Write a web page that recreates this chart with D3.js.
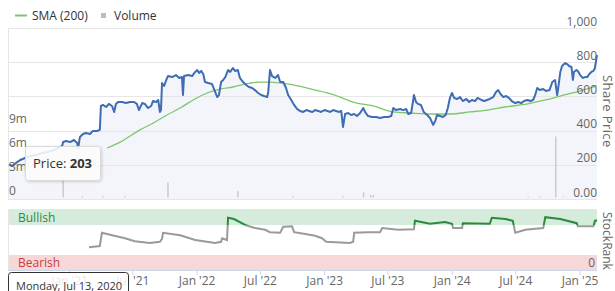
<!DOCTYPE html>
<html>
<head>
<meta charset="utf-8">
<script src="https://cdn.jsdelivr.net/npm/d3@7"></script>
<style>
  body { margin: 0; background: #fff; }
  svg { display: block; font-family: "Open Sans", sans-serif; }
</style>
</head>
<body>
<svg id="chart" width="615" height="291"></svg>
<script>
/* share price */
const priceSeries = [
  ["2020-07-13",203],["2020-07-22",193],["2020-08-02",211],["2020-08-14",228],["2020-08-28",240],["2020-09-11",251],
  ["2020-09-28",257],["2020-10-16",269],["2020-11-01",275],["2020-11-19",287],["2020-11-30",298],["2020-12-12",310],
  ["2020-12-15",333],["2020-12-23",339],["2021-01-04",333],["2021-01-15",345],["2021-01-24",327],["2021-01-27",298],
  ["2021-02-01",363],["2021-02-10",380],["2021-02-18",386],["2021-03-02",380],["2021-03-10",398],["2021-03-22",398],
  ["2021-03-30",404],["2021-04-02",544],["2021-04-08",550],["2021-04-17",538],["2021-04-25",556],["2021-05-04",544],
  ["2021-05-10",509],["2021-05-15",556],["2021-05-21",567],["2021-06-02",567],["2021-06-13",561],["2021-06-24",567],
  ["2021-07-06",567],["2021-07-14",556],["2021-07-20",520],["2021-07-29",561],["2021-08-06",556],["2021-08-15",532],
  ["2021-08-24",544],["2021-08-29",573],["2021-09-07",567],["2021-09-13",579],["2021-09-18",509],["2021-09-21",520],
  ["2021-09-24",678],["2021-09-30",661],["2021-10-06",696],["2021-10-11",719],["2021-10-23",713],["2021-11-03",725],
  ["2021-11-12",708],["2021-11-20",713],["2021-11-23",608],["2021-11-26",719],["2021-12-08",725],["2021-12-19",719],
  ["2021-12-28",743],["2022-01-03",754],["2022-01-08",737],["2022-01-14",749],["2022-01-20",731],["2022-01-25",684],
  ["2022-02-03",678],["2022-02-14",673],["2022-02-23",626],["2022-03-01",596],["2022-03-06",608],["2022-03-12",684],
  ["2022-03-18",696],["2022-03-24",713],["2022-04-01",754],["2022-04-07",743],["2022-04-15",766],["2022-04-21",749],
  ["2022-04-29",754],["2022-05-05",708],["2022-05-14",684],["2022-05-23",667],["2022-05-31",655],["2022-06-09",649],
  ["2022-06-17",637],["2022-06-26",620],["2022-07-05",608],["2022-07-13",602],["2022-07-22",596],["2022-07-25",626],
  ["2022-07-30",754],["2022-08-05",719],["2022-08-14",708],["2022-08-22",725],["2022-08-28",684],["2022-09-06",684],
  ["2022-09-14",649],["2022-09-20",608],["2022-09-29",579],["2022-10-07",550],["2022-10-16",526],["2022-10-24",515],
  ["2022-11-02",509],["2022-11-11",520],["2022-11-19",515],["2022-11-28",509],["2022-12-06",520],["2022-12-15",515],
  ["2022-12-23",509],["2023-01-02",520],["2023-01-10",515],["2023-01-18",509],["2023-01-27",520],["2023-02-04",515],
  ["2023-02-13",509],["2023-02-19",515],["2023-02-24",421],["2023-03-02",497],["2023-03-11",503],["2023-03-19",491],
  ["2023-03-28",497],["2023-04-05",485],["2023-04-14",503],["2023-04-23",532],["2023-04-28",509],["2023-05-07",485],
  ["2023-05-18",480],["2023-05-30",480],["2023-06-10",474],["2023-06-22",480],["2023-07-03",480],["2023-07-12",485],
  ["2023-07-18",532],["2023-07-26",520],["2023-08-07",526],["2023-08-15",520],["2023-08-24",526],["2023-08-30",497],
  ["2023-09-07",503],["2023-09-13",579],["2023-09-15",608],["2023-09-21",567],["2023-09-27",556],["2023-10-05",550],
  ["2023-10-13",509],["2023-10-23",491],["2023-10-31",474],["2023-11-09",433],["2023-11-15",456],["2023-11-20",491],
  ["2023-11-29",485],["2023-12-07",480],["2023-12-15",491],["2023-12-21",532],["2023-12-27",591],["2024-01-02",620],
  ["2024-01-08",591],["2024-01-17",585],["2024-01-25",596],["2024-02-02",573],["2024-02-12",585],["2024-02-20",567],
  ["2024-02-28",579],["2024-03-08",573],["2024-03-15",591],["2024-03-26",579],["2024-04-03",573],["2024-04-11",579],
  ["2024-04-19",585],["2024-04-29",596],["2024-05-07",626],["2024-05-13",637],["2024-05-20",614],["2024-05-28",596],
  ["2024-06-05",602],["2024-06-13",591],["2024-06-21",573],["2024-07-01",561],["2024-07-10",567],["2024-07-18",561],
  ["2024-07-26",573],["2024-08-05",579],["2024-08-13",573],["2024-08-21",579],["2024-08-27",608],["2024-09-02",649],
  ["2024-09-10",637],["2024-09-19",643],["2024-09-27",632],["2024-10-07",637],["2024-10-15",684],["2024-10-23",696],
  ["2024-10-29",608],["2024-11-01",649],["2024-11-07",743],["2024-11-12",778],["2024-11-21",795],["2024-11-27",789],
  ["2024-12-02",778],["2024-12-09",772],["2024-12-13",696],["2024-12-16",743],["2024-12-23",754],["2024-12-27",749],
  ["2025-01-03",725],["2025-01-10",708],["2025-01-17",713],["2025-01-23",713],["2025-01-29",731],["2025-02-04",743],
  ["2025-02-10",749],["2025-02-14",766],["2025-02-20",842]
];

/* 200 day moving average */
const smaSeries = [
  ["2021-04-20",298],["2021-05-27",333],["2021-07-23",404],["2021-09-04",450],["2021-10-08",491],["2021-11-15",532],
  ["2021-12-22",579],["2022-01-31",620],["2022-03-09",643],["2022-04-15",655],["2022-06-03",678],["2022-07-02",684],
  ["2022-07-30",684],["2022-09-17",673],["2022-11-14",649],["2023-01-10",620],["2023-02-16",596],["2023-03-25",567],
  ["2023-05-21",544],["2023-07-18",509],["2023-09-04",503],["2023-11-09",497],["2023-12-27",497],["2024-02-23",509],
  ["2024-04-11",520],["2024-06-02",538],["2024-08-05",556],["2024-09-25",579],["2024-11-07",602],["2025-01-03",632],
  ["2025-02-20",661]
];

/* volume, millions */
const volumeSeries = [
  ["2020-09-02",0.2],["2020-09-16",0.15],["2020-12-15",2.6],["2021-02-08",0.35],["2021-04-08",0.35],["2021-06-10",0.35],
  ["2021-10-11",2.1],["2021-11-26",0.2],["2022-04-29",1.0],["2022-06-13",0.2],["2022-10-04",0.35],["2023-02-24",0.35],
  ["2023-04-24",0.85],["2023-05-15",0.5],["2023-05-22",0.5],["2023-06-05",0.2],["2024-05-10",0.2],["2024-08-07",0.3],
  ["2024-09-09",0.3],["2024-09-23",0.2],["2024-10-25",7.9],["2024-11-15",0.3],["2024-11-27",0.2]
];

/* StockRank */
const rankSeries = [
  ["2021-02-27",38],["2021-03-30",40],["2021-04-05",62],["2021-05-04",58],["2021-06-10",53],["2021-07-08",48],
  ["2021-08-20",45],["2021-09-18",47],["2021-09-24",52],["2021-09-27",62],["2021-11-15",58],["2021-12-28",50],
  ["2022-02-23",45],["2022-03-12",47],["2022-03-15",53],["2022-03-29",50],["2022-04-01",87],["2022-04-18",85],
  ["2022-05-20",75],["2022-06-17",70],["2022-07-16",67],["2022-07-30",63],["2022-08-28",62],["2022-09-06",72],
  ["2022-10-01",73],["2022-10-07",63],["2022-11-08",60],["2022-12-06",57],["2022-12-26",53],["2023-01-07",47],
  ["2023-03-16",45],["2023-03-25",47],["2023-03-28",62],["2023-05-07",63],["2023-06-10",63],["2023-06-16",70],
  ["2023-08-01",67],["2023-09-15",68],["2023-09-18",82],["2023-10-31",77],["2023-12-13",80],["2024-01-02",77],
  ["2024-01-05",70],["2024-01-31",70],["2024-02-02",78],["2024-04-19",77],["2024-04-25",87],["2024-06-03",85],
  ["2024-06-24",82],["2024-07-01",62],["2024-07-30",67],["2024-09-19",70],["2024-09-25",88],["2024-11-07",85],
  ["2024-12-24",78],["2024-12-27",73],["2025-02-10",73],["2025-02-14",82],["2025-02-20",83]
];

const priceTicks = [0, 200, 400, 600, 800, 1000];
const priceTickLabels = ["0.00", "200", "400", "600", "800", "1,000"];
const volumeTicks = [0, 3, 6, 9];
const volumeTickLabels = ["0", "3m", "6m", "9m"];
const dateTicks = ["2021-01-01","2021-07-01","2022-01-01","2022-07-01","2023-01-01","2023-07-01","2024-01-01","2024-07-01","2025-01-01"];

const parse = d3.timeParse("%Y-%m-%d");
const svg = d3.select("#chart");

const left = 8, right = 597;
const x = d3.scaleTime().domain([parse("2020-07-13"), parse("2025-02-20")]).range([9, right]);
const yPrice = d3.scaleLinear().domain([0, 1000]).range([199, 28]);
const yVol = d3.scaleLinear().domain([0, 21.6]).range([199, 28]);
const yRank = d3.scaleLinear().domain([0, 100]).range([270, 210]);

/* drop shadow for tooltip */
const defs = svg.append("defs");
const f = defs.append("filter").attr("id", "shadow").attr("x", "-20%").attr("y", "-20%").attr("width", "150%").attr("height", "150%");
f.append("feDropShadow").attr("dx", 1).attr("dy", 1).attr("stdDeviation", 1.5).attr("flood-color", "#000").attr("flood-opacity", 0.18);

/* legend */
const legend = svg.append("g").attr("font-size", 12).attr("fill", "#333");
legend.append("line").attr("x1", 15).attr("x2", 27).attr("y1", 15.5).attr("y2", 15.5)
  .attr("stroke", "#7dc66c").attr("stroke-width", 2);
legend.append("text").attr("x", 32).attr("y", 19.5).text("SMA (200)");
legend.append("rect").attr("x", 101).attr("y", 13).attr("width", 5).attr("height", 5).attr("fill", "#bdbdbd");
legend.append("text").attr("x", 114).attr("y", 19.5).text("Volume");

/* price area */
const pts = priceSeries.map(d => ({date: parse(d[0]), value: d[1]}));
const area = d3.area().x(d => x(d.date)).y0(yPrice(0)).y1(d => yPrice(d.value));
svg.append("path").attr("d", area(pts)).attr("fill", "#f3f5fa");

/* grid */
svg.append("g").selectAll("line").data(priceTicks).join("line")
  .attr("x1", left).attr("x2", right)
  .attr("y1", d => Math.round(yPrice(d)) + 0.5).attr("y2", d => Math.round(yPrice(d)) + 0.5)
  .attr("stroke", "#e6e6e6");
svg.append("line").attr("x1", left + 0.5).attr("x2", left + 0.5).attr("y1", 28).attr("y2", 199).attr("stroke", "#e6e6e6");

/* volume */
svg.append("g").selectAll("rect").data(volumeSeries).join("rect")
  .attr("x", d => x(parse(d[0])) - 0.75)
  .attr("width", 1.5)
  .attr("y", d => yVol(d[1]))
  .attr("height", d => yVol(0) - yVol(d[1]) - 1.5)
  .attr("fill", "#cbcbcb");

/* sma line */
const sma = smaSeries.map(d => ({date: parse(d[0]), value: d[1]}));
svg.append("path")
  .attr("d", d3.line().x(d => x(d.date)).y(d => yPrice(d.value)).curve(d3.curveMonotoneX)(sma))
  .attr("fill", "none").attr("stroke", "#7dc66c").attr("stroke-width", 1.3);

/* price line */
svg.append("path")
  .attr("d", d3.line().x(d => x(d.date)).y(d => yPrice(d.value))(pts))
  .attr("fill", "none").attr("stroke", "#3e6db5").attr("stroke-width", 2).attr("stroke-linejoin", "round");

/* price axis labels (right) */
const priceAxis = d3.axisRight(yPrice).tickValues(priceTicks).tickSize(0).tickFormat((d, i) => priceTickLabels[i]);
const gp = svg.append("g").attr("transform", `translate(${right},0)`).call(priceAxis);
gp.select(".domain").remove();
gp.attr("font-family", null).attr("font-size", 12);
gp.selectAll("text").attr("x", 0).attr("dy", -3).attr("text-anchor", "end").attr("fill", "#666");

/* volume axis labels (left, inside) */
const volAxis = d3.axisLeft(yVol).tickValues(volumeTicks).tickSize(0).tickFormat((d, i) => volumeTickLabels[i]);
const gv = svg.append("g").attr("transform", `translate(${left},0)`).call(volAxis);
gv.select(".domain").remove();
gv.attr("font-family", null).attr("font-size", 12);
gv.selectAll("text").attr("x", 1).attr("dy", -5).attr("text-anchor", "start").attr("fill", "#666");

svg.append("text").attr("transform", "translate(603,75) rotate(90)")
  .attr("font-size", 13).attr("fill", "#666").attr("letter-spacing", 0.4).text("Share Price");

/* StockRank panel */
const rank = svg.append("g");
rank.append("rect").attr("x", left).attr("width", right - left).attr("y", yRank(100)).attr("height", yRank(75) - yRank(100)).attr("fill", "#d5ecdc");
rank.append("rect").attr("x", left).attr("width", right - left).attr("y", yRank(25)).attr("height", yRank(0) - yRank(25)).attr("fill", "#f6d8d8");
rank.append("line").attr("x1", left).attr("x2", right).attr("y1", 209.5).attr("y2", 209.5).attr("stroke", "#e6e6e6");
rank.append("line").attr("x1", left + 0.5).attr("x2", left + 0.5).attr("y1", 209).attr("y2", 270).attr("stroke", "#e6e6e6");
rank.append("text").attr("x", 18).attr("y", 222).attr("font-size", 12).attr("fill", "#2d8a3e").text("Bullish");
rank.append("text").attr("x", 18).attr("y", 267).attr("font-size", 12).attr("fill", "#cc3b44").text("Bearish");
rank.append("text").attr("x", right - 2).attr("y", 267).attr("text-anchor", "end").attr("font-size", 12).attr("fill", "#666").text("0");
rank.append("text").attr("transform", "translate(603,212) rotate(90)")
  .attr("font-size", 12).attr("fill", "#666").text("StockRank");

defs.append("clipPath").attr("id", "bull").append("rect")
  .attr("x", 0).attr("width", 615).attr("y", 0).attr("height", yRank(75));
defs.append("clipPath").attr("id", "bear").append("rect")
  .attr("x", 0).attr("width", 615).attr("y", yRank(75)).attr("height", 291 - yRank(75));

const rk = rankSeries.map(d => ({date: parse(d[0]), value: d[1]}));
const rankLine = d3.line().x(d => x(d.date)).y(d => yRank(d.value));
rank.append("path").attr("d", rankLine(rk)).attr("clip-path", "url(#bear)")
  .attr("fill", "none").attr("stroke", "#9a9a9a").attr("stroke-width", 2);
rank.append("path").attr("d", rankLine(rk)).attr("clip-path", "url(#bull)")
  .attr("fill", "none").attr("stroke", "#2b8a3b").attr("stroke-width", 2);

/* x axis */
const xAxis = d3.axisBottom(x).tickValues(dateTicks.map(parse)).tickSize(5).tickFormat(d3.timeFormat("%b '%y"));
const gx = svg.append("g").attr("transform", "translate(0,270)").call(xAxis);
gx.attr("font-family", null).attr("font-size", 12);
gx.select(".domain").attr("d", `M${left},0.5H${right}`).attr("stroke", "#ccd6eb");
gx.selectAll(".tick line").attr("stroke", "#ccd6eb");
gx.selectAll("text").attr("fill", "#666").attr("y", 15).attr("dy", 0);

/* tooltips */
const tipPrice = svg.append("g");
tipPrice.append("rect").attr("x", 25.5).attr("y", 146.5).attr("width", 75).attr("height", 34).attr("rx", 3)
  .attr("fill", "#fff").attr("fill-opacity", 0.85).attr("stroke", "#d9d9d9").attr("filter", "url(#shadow)");
const tp = tipPrice.append("text").attr("x", 33).attr("y", 167.5).attr("font-size", 13).attr("fill", "#333");
tp.append("tspan").text("Price: ");
tp.append("tspan").attr("font-weight", "bold").text(priceSeries[0][1]);

const tipDate = svg.append("g");
tipDate.append("rect").attr("x", 8.5).attr("y", 272.5).attr("width", 120).attr("height", 30).attr("rx", 3)
  .attr("fill", "#fff").attr("fill-opacity", 0.85).attr("stroke", "#333");
tipDate.append("text").attr("x", 16).attr("y", 290).attr("font-size", 11).attr("fill", "#333")
  .text(d3.timeFormat("%A, %b %d, %Y")(parse(priceSeries[0][0])));
</script>
</body>
</html>
